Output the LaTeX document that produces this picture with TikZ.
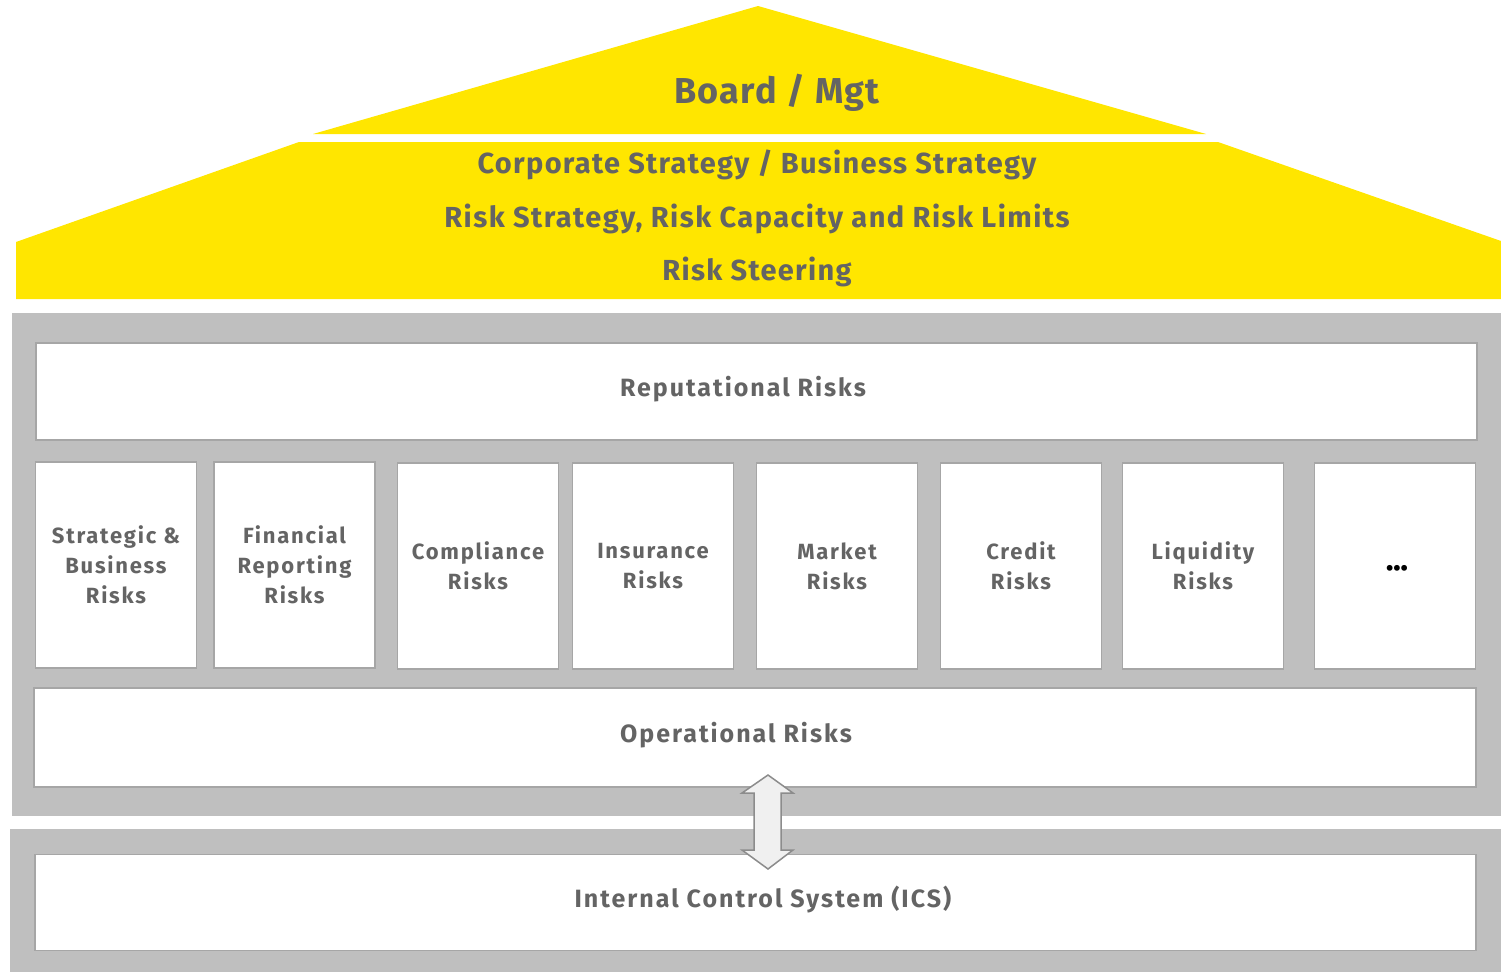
\documentclass[tikz,border=0pt]{standalone}
\usepackage{fontspec}
\setmainfont{Fira Sans}
\newfontfamily\boardfont{Fira Sans}[LetterSpace=3.3]
\newfontfamily\rooffont{Fira Sans}[LetterSpace=4.5]
\newfontfamily\roofwidefont{Fira Sans}[LetterSpace=5.0]
\newfontfamily\bandfont{Fira Sans}[LetterSpace=8]
\newfontfamily\boxfont{Fira Sans}[LetterSpace=8]
\definecolor{eyyellow}{HTML}{FFE600}
\definecolor{panelgray}{HTML}{BFBFBF}
\definecolor{framegray}{HTML}{A6A6A6}
\definecolor{txtgray}{HTML}{646464}
\definecolor{arrowfill}{HTML}{F0F0F0}
\definecolor{arrowline}{HTML}{8C8C8C}
\tikzset{
  roof/.style={fill=eyyellow, draw=none},
  panel/.style={fill=panelgray, draw=none},
  wbox/.style={draw=framegray, fill=white, line width=1.5pt, inner sep=0pt},
  bandtext/.style={text=txtgray, font=\bandfont\bfseries\fontsize{25}{28}\selectfont},
  riskbox/.style={wbox, minimum width=161pt, minimum height=206pt, align=center,
    text=txtgray, font=\boxfont\bfseries\fontsize{22}{30}\selectfont},
  rooftext/.style={text=txtgray, font=\rooffont\bfseries\fontsize{29}{32}\selectfont, inner sep=0pt},
}
\begin{document}
\begin{tikzpicture}[x=1pt,y=-1pt]
\useasboundingbox (0,0) rectangle (1501,972);
% roof
\fill[roof] (313,134) -- (758,6) -- (1206,134) -- cycle;
\fill[roof] (299,142) -- (1218,142) -- (1501,241) -- (1501,299) -- (16,299) -- (16,242) -- cycle;
\node[rooftext, font=\boardfont\bfseries\fontsize{36}{40}\selectfont] (board) at (777,93) {Board / Mgt};
\node[rooftext] (corp) at (757,165) {Corporate Strategy / Business Strategy};
\node[rooftext, font=\roofwidefont\bfseries\fontsize{29}{32}\selectfont] (riskstrat) at (757,219) {Risk Strategy, Risk Capacity and Risk Limits};
\node[rooftext] (steer) at (757,272) {Risk Steering};
% gray panels
\fill[panel] (12,313) rectangle (1501,816);
\fill[panel] (10,829) rectangle (1501,972);
% horizontal risk bands
\node[wbox, minimum width=1441pt, minimum height=97pt] (rep) at (756.5,391.5) {};
\node[bandtext] (reptxt) at (743,389) {Reputational Risks};
\node[wbox, minimum width=1442pt, minimum height=99pt] (op) at (755,737.5) {};
\node[bandtext] (optxt) at (736,735) {Operational Risks};
\node[wbox, minimum width=1441pt, minimum height=96pt] (ics) at (755.5,902.5) {};
\node[bandtext] (icstxt) at (763,900) {Internal Control System (ICS)};
% risk category pillars
\node[riskbox] (b1) at (116,565) {Strategic \&\\Business\\Risks};
\node[riskbox] (b2) at (294.5,565) {Financial\\Reporting\\Risks};
\node[riskbox] (b3) at (478,566) {Compliance\\Risks};
\node[riskbox] (b4) at (653,566) {Insurance\\Risks};
\node[riskbox] (b5) at (837,566) {Market\\Risks};
\node[riskbox] (b6) at (1021,566) {Credit\\Risks};
\node[riskbox] (b7) at (1203,566) {Liquidity\\Risks};
\node[riskbox, text=black, font=\bfseries\fontsize{21}{21}\selectfont] (b8) at (1395,566) {};
\node[text=black, font=\bfseries\fontsize{21}{21}\selectfont, inner sep=0pt] (dots) at (1397,570) {•••};
% two-way link between operational risks and the ICS
\draw[fill=arrowfill, draw=arrowline, line width=1.5pt, line join=miter]
  (768,775) -- (793,793) -- (781,793) -- (781,850) -- (793,850) -- (768,869)
  -- (742,850) -- (754,850) -- (754,793) -- (742,793) -- cycle;
\end{tikzpicture}
\end{document}
